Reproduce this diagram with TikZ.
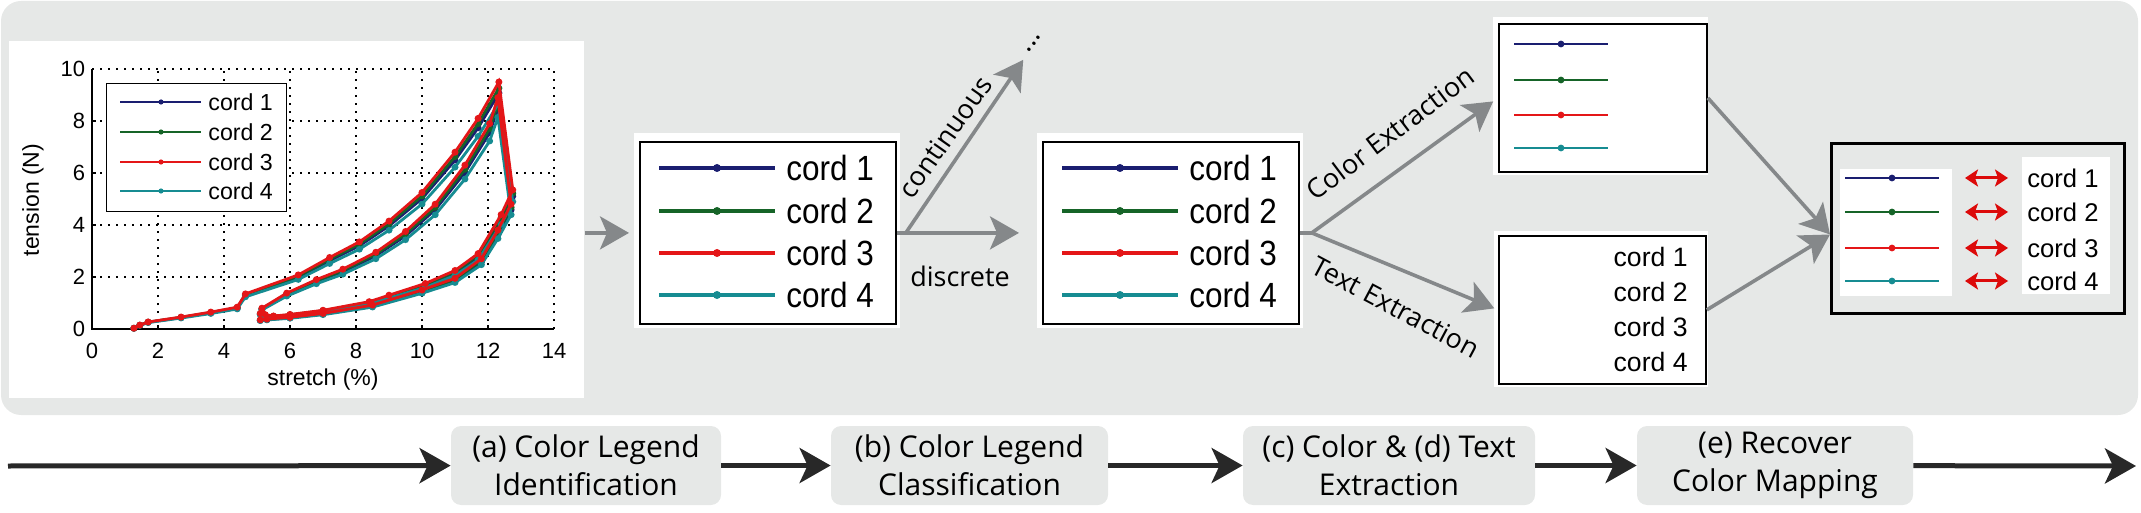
\documentclass[tikz,border=0pt]{standalone}
\usepackage{fontspec}
\setmainfont{Liberation Sans}
\newfontfamily\stagefont{Open Sans}
\newfontfamily\narrowcord[FakeStretch=0.9]{Liberation Sans}
\usepackage{tikz}
\usetikzlibrary{arrows.meta}

\definecolor{panelgrey}{RGB}{230,232,231}
\definecolor{arrowgrey}{RGB}{133,136,138}
\definecolor{flowdark}{RGB}{40,40,40}
\definecolor{cordA}{RGB}{26,30,112}
\definecolor{cordB}{RGB}{22,100,40}
\definecolor{cordC}{RGB}{228,22,24}
\definecolor{cordD}{RGB}{22,140,146}
\definecolor{mapred}{RGB}{220,10,10}

\tikzset{
  whitebg/.style={fill=white, inner sep=0pt, anchor=north west},
  legendframe/.style={draw=black, line width=0.9pt, fill=white, inner sep=0pt, anchor=north west},
  greyline/.style={draw=arrowgrey, line width=1.8pt},
  greyarrow/.style={greyline, -{Stealth[length=14.5pt, width=16.5pt, inset=3.5pt]}},
  flowarrow/.style={draw=flowdark, line width=2.5pt, -{Stealth[length=15.5pt, width=17.5pt, inset=4pt]}},
  maparrow/.style={draw=mapred, line width=1.5pt, {Stealth[length=6.5pt, width=8.5pt, inset=1.5pt]}-{Stealth[length=6.5pt, width=8.5pt, inset=1.5pt]}},
  stagebox/.style={fill=panelgrey, rounded corners=5pt, align=center, inner sep=0pt, font=\stagefont\fontsize{15pt}{19pt}\selectfont},
  pathlabel/.style={font=\stagefont\fontsize{13.5pt}{16pt}\selectfont, inner sep=0pt},
  griddot/.style={black, line width=0.6pt, dash pattern=on 0.8pt off 3.2pt},
  axisline/.style={black, line width=0.8pt},
  ticklabel/.style={font=\fontsize{11pt}{13pt}\selectfont, inner sep=0pt},
  plotcord/.style={font=\fontsize{11.6pt}{14pt}\selectfont, inner sep=0pt, anchor=west},
  bigcord/.style={font=\narrowcord\fontsize{17.5pt}{20pt}\selectfont, inner sep=0pt, anchor=west},
  textcord/.style={font=\fontsize{13.3pt}{16pt}\selectfont, inner sep=0pt, anchor=east},
  mapcord/.style={font=\fontsize{12.8pt}{15pt}\selectfont, inner sep=0pt, anchor=west},
  sample/.style={draw=#1, line width=2pt},
  cordcurve/.style={draw=#1, line width=1.4pt, mark=*, mark size=1pt, mark options={solid, fill=#1}},
}

\begin{document}
\begin{tikzpicture}[x=0.5pt, y=-0.5pt]
  \useasboundingbox (0,0) rectangle (2141,513);
  % grey panel and white margins of the crops
  \fill[panelgrey, rounded corners=10pt] (1,1) rectangle (2138,415);
  \fill[white] (634,133) rectangle (900,328);
  \fill[white] (1037,133) rectangle (1303,328);
  \fill[white] (1493,17) rectangle (1708,175);
  \fill[white] (1494,231) rectangle (1708,387);

  % (a) the chart
  \node[whitebg, minimum width=287.5pt, minimum height=178.5pt] (plot) at (9,41) {};
  \begin{scope}[shift={(92,329)}, x=16.5pt, y=13pt]
    \foreach \g in {2,4,...,14} \draw[griddot] (\g,0) -- (\g,10);
    \foreach \g in {2,4,...,10} \draw[griddot] (0,\g) -- (14,\g);
    \foreach \g in {2,4,...,12} \draw[axisline] (\g,0) -- (\g,0.15);
    \foreach \g in {2,4,...,8} \draw[axisline] (0,\g) -- (0.12,\g);
    \draw[axisline] (0,10) -- (0,0) -- (14,0);
    \foreach \g in {0,2,...,14} \node[ticklabel] (xt\g) at (\g,-0.85) {\g};
    \foreach \g in {0,2,...,10} \node[ticklabel, anchor=east] (yt\g) at (-0.2,\g) {\g};
    \node[ticklabel, font=\fontsize{11.5pt}{13pt}\selectfont] (xlabel) at (7,-1.96) {stretch (\%)};
    \node[ticklabel, font=\fontsize{11.5pt}{13pt}\selectfont, rotate=90] (ylabel) at (-1.79,4.96) {tension (N)};
    \foreach \col/\f in {cordA/0.955, cordB/0.975, cordD/0.915, cordC/1.0}
      \draw[cordcurve=\col, yscale=\f] plot coordinates {(1.27,0.03) (1.45,0.15) (1.7,0.27) (2.7,0.46) (3.6,0.65)
        (4.4,0.84) (4.65,1.35) (6.25,2.08) (7.2,2.75) (8.1,3.35) (9.0,4.15) (10.0,5.25) (11.0,6.8) (11.7,8.1)
        (12.33,9.5) (12.75,5.35) (12.4,4.4) (11.7,2.9) (11.0,2.25) (10.1,1.75) (9.0,1.3) (8.4,1.05) (7.0,0.72)
        (6.0,0.56) (5.5,0.5) (5.25,0.55) (5.15,0.8) (5.9,1.38) (6.8,1.9) (7.6,2.3) (8.6,2.95) (9.5,3.75)
        (10.4,4.8) (11.3,6.3) (12.05,7.9) (12.3,8.9) (12.7,4.8) (12.3,3.8) (11.8,2.7) (11.0,1.95) (10.0,1.5)
        (8.5,0.92) (7.0,0.6) (6.0,0.45) (5.3,0.38) (5.1,0.35) (5.1,0.6)};
  \end{scope}
  \node[legendframe, line width=0.6pt, minimum width=90pt, minimum height=64pt] (plotlegend) at (106,83) {};
  \foreach \i/\col/\y in {1/cordA/102, 2/cordB/132, 3/cordC/162, 4/cordD/191} {
    \draw[sample=\col, line width=1.2pt] (120,\y) -- (201,\y);
    \fill[\col] (161,\y) circle[radius=1.3pt];
    \node[plotcord] (pt\i) at (208,\y) {cord \i};
  }

  % (b) legend crop, before and after classification
  \node[legendframe, minimum width=128pt, minimum height=91pt] (box1) at (639,141) {};
  \node[legendframe, minimum width=128pt, minimum height=91pt] (box2) at (1042,141) {};
  \foreach \i/\col/\y in {1/cordA/168, 2/cordB/211, 3/cordC/253, 4/cordD/295} {
    \draw[sample=\col] (659,\y) -- (775,\y);
    \fill[\col] (717,\y) circle[radius=2pt];
    \node[bigcord] (b1t\i) at (786,\y) {cord \i};
    \draw[sample=\col] (1062,\y) -- (1178,\y);
    \fill[\col] (1120,\y) circle[radius=2pt];
    \node[bigcord] (b2t\i) at (1189,\y) {cord \i};
  }

  % (c) colours only, (d) texts only
  \node[legendframe, minimum width=104pt, minimum height=74pt] (box3) at (1498,23) {};
  \foreach \col/\y in {cordA/44, cordB/80, cordC/115, cordD/148} {
    \draw[sample=\col, line width=1.3pt] (1514,\y) -- (1608,\y);
    \fill[\col] (1561,\y) circle[radius=1.7pt];
  }
  \node[legendframe, minimum width=103.5pt, minimum height=74pt] (box4) at (1498,235) {};
  \node[textcord] (b4t1) at (1688,257) {cord 1};
  \node[textcord] (b4t2) at (1688,292) {cord 2};
  \node[textcord] (b4t3) at (1688,327) {cord 3};
  \node[textcord] (b4t4) at (1688,362) {cord 4};

  % (e) recovered mapping
  \node[draw=black, line width=1.5pt, inner sep=0pt, anchor=north west, minimum width=146.5pt, minimum height=85pt] (mapbox) at (1830,142) {};
  \fill[white] (1840,169) rectangle (1952,296);
  \fill[white] (2022,157) rectangle (2110,294);
  \foreach \i/\col/\y in {1/cordA/178, 2/cordB/212, 3/cordC/248, 4/cordD/281} {
    \draw[sample=\col, line width=1.3pt] (1845,\y) -- (1939,\y);
    \fill[\col] (1892,\y) circle[radius=1.7pt];
    \coordinate (ms\i) at (1939,\y);
    \node[mapcord] (mt\i) at (2027,\y) {cord \i};
    \draw[maparrow] ([xshift=13pt]ms\i) -- ([xshift=-9.5pt]mt\i.west);
  }

  % grey arrows between the steps
  \coordinate (split1) at ([xshift=4.5pt]box1.east);
  \coordinate (split2) at ([xshift=6pt]box2.east);
  \coordinate (mapin) at ([yshift=-3pt]mapbox.west);
  \node[pathlabel, rotate=55] (more) at (1034,44) {...};
  \draw[greyarrow, shorten >=5pt] (plot.east |- box1.west) -- (box1.west);
  \draw[greyline] (box1.east) -- (split1);
  \draw[greyarrow, shorten >=4pt] (split1) -- (more);
  \draw[greyarrow, shorten >=11.5pt] (split1) -- (box2.west);
  \draw[greyline] (box2.east) -- (split2);
  \draw[greyarrow, shorten >=3pt] (split2) -- (box3.west);
  \draw[greyarrow, shorten >=2pt] (split2) -- (box4.west);
  \draw[greyarrow] (box3.east) -- (mapin);
  \draw[greyarrow] (box4.east) -- (mapin);
  \node[pathlabel, rotate=55] (lcont) at (945,137) {continuous};
  \node[pathlabel] (ldisc) at (960,276) {discrete};
  \node[pathlabel, rotate=37] (lcolor) at (1390,133) {Color Extraction};
  \node[pathlabel, rotate=-28] (ltext) at (1396,307) {Text Extraction};

  % stages
  \coordinate (flowstart) at (8,466);
  \node[stagebox, minimum width=135pt, minimum height=39.5pt] (stagea) at (586,465.5) {(a) Color Legend\\Identification};
  \node[stagebox, minimum width=138.5pt, minimum height=39.5pt] (stageb) at (969.5,465.5) {(b) Color Legend\\Classification};
  \node[stagebox, minimum width=146pt, minimum height=39.5pt] (stagec) at (1389,465.5) {(c) Color \& (d) Text\\Extraction};
  \node[stagebox, minimum width=138pt, minimum height=39.5pt] (staged) at (1775,465.5) {(e) Recover\\Color Mapping};
  \coordinate (flowend) at (2136,466);
  \draw[flowarrow] (flowstart) -- (stagea);
  \draw[flowarrow] (stagea) -- (stageb);
  \draw[flowarrow] (stageb) -- (stagec);
  \draw[flowarrow] (stagec) -- (staged);
  \draw[flowarrow] (staged) -- (flowend);
\end{tikzpicture}
\end{document}
